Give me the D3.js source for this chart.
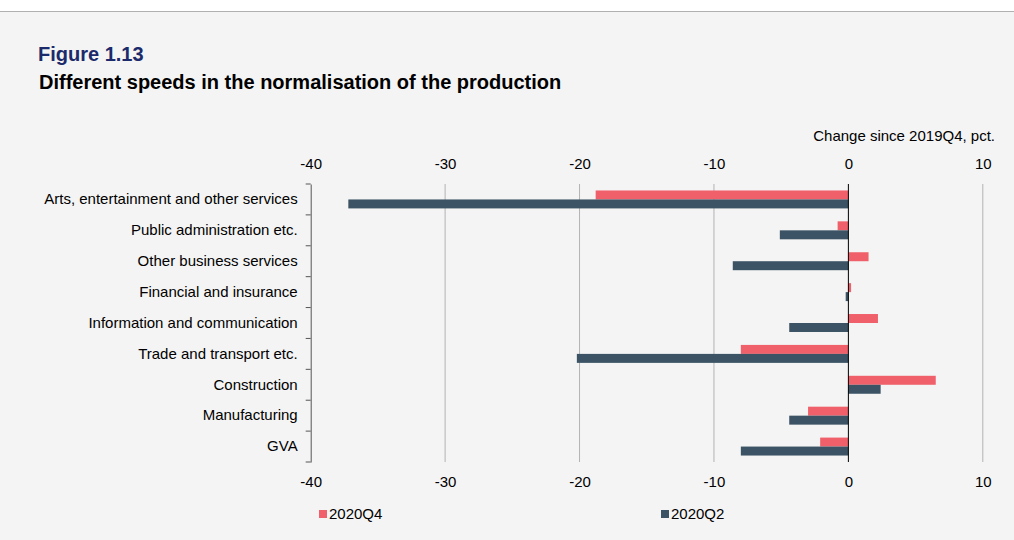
<!DOCTYPE html>
<html><head><meta charset="utf-8">
<script src="https://cdn.jsdelivr.net/npm/d3@7"></script>
<style>
html,body{margin:0;padding:0;background:#fff;}
svg{display:block;font-family:"Liberation Sans",Arial,sans-serif;}
</style></head>
<body>
<svg id="chart" width="1014" height="540"></svg>
<script>
const categories = ["Arts, entertainment and other services","Public administration etc.","Other business services","Financial and insurance","Information and communication","Trade and transport etc.","Construction","Manufacturing","GVA"];
const q4 = [-18.8,-0.8,1.5,0.2,2.2,-8.0,6.5,-3.0,-2.1];
const q2 = [-37.2,-5.1,-8.6,-0.2,-4.4,-20.2,2.4,-4.4,-8.0];
const seriesNames = ["2020Q4","2020Q2"];
const colors = ["#f0606a","#3b5364"];
const xTicks = [-40,-30,-20,-10,0,10];

const FS = 15;
const svg = d3.select("#chart");
svg.append("rect").attr("x",0).attr("y",11).attr("width",1014).attr("height",529).attr("fill","#f4f4f4");
svg.append("line").attr("x1",0).attr("x2",1014).attr("y1",11.5).attr("y2",11.5).attr("stroke","#b0b0b0").attr("stroke-width",1);

svg.append("text").attr("x",38).attr("y",61).attr("font-size",20).attr("font-weight","bold").attr("fill","#1b2a6b").text("Figure 1.13");
svg.append("text").attr("x",39).attr("y",89).attr("font-size",20).attr("font-weight","bold").attr("fill","#000").text("Different speeds in the normalisation of the production");
svg.append("text").attr("x",995).attr("y",141).attr("font-size",FS).attr("text-anchor","end").attr("fill","#000").text("Change since 2019Q4, pct.");

const x = d3.scaleLinear().domain([-40,10]).range([310.7,982.8]);
const y = d3.scaleBand().domain(categories).range([184,462]);
const sub = d3.scaleBand().domain(seriesNames).range([0,y.bandwidth()]).paddingInner(0).paddingOuter(0.72);

// gridlines
svg.append("g").selectAll("line").data(xTicks.filter(d=>d!==-40 && d!==0)).join("line")
  .attr("x1",d=>x(d)).attr("x2",d=>x(d)).attr("y1",184).attr("y2",462)
  .attr("stroke","#b3b3b3").attr("stroke-width",1);

// bars
const data = categories.map((c,i)=>({c, vals:[q4[i],q2[i]]}));
const g = svg.append("g");
data.forEach(d=>{
  d.vals.forEach((v,j)=>{
    g.append("rect")
      .attr("x",x(Math.min(0,v))).attr("width",Math.abs(x(v)-x(0)))
      .attr("y",y(d.c)+sub(seriesNames[j])).attr("height",sub.bandwidth())
      .attr("fill",colors[j]);
  });
});

// zero line
svg.append("line").attr("x1",x(0)).attr("x2",x(0)).attr("y1",184).attr("y2",462).attr("stroke","#000").attr("stroke-width",1);

// top and bottom axes
const fmt = d=>d3.format("d")(d).replace("−","-");
const topAx = svg.append("g").attr("transform","translate(0,172)").call(d3.axisTop(x).tickValues(xTicks).tickSize(0).tickFormat(fmt));
const botAx = svg.append("g").attr("transform","translate(0,473)").call(d3.axisBottom(x).tickValues(xTicks).tickSize(0).tickFormat(fmt));
[topAx,botAx].forEach(a=>{a.select(".domain").remove(); a.selectAll("text").attr("font-size",FS).attr("fill","#000").attr("font-family","Liberation Sans, Arial, sans-serif");});

// left axis
const yAx = svg.append("g").attr("transform",`translate(${x(-40)},0)`)
  .call(d3.axisLeft(y).tickSize(0).tickPadding(13));
yAx.select(".domain").attr("stroke","#555");
yAx.selectAll("text").attr("font-size",FS).attr("fill","#000").attr("font-family","Liberation Sans, Arial, sans-serif");
// tick marks between categories
const bounds = categories.map(c=>y(c)).concat([y.range()[1]]);
svg.append("g").selectAll("line").data(bounds).join("line")
  .attr("x1",x(-40)-5).attr("x2",x(-40)).attr("y1",d=>d).attr("y2",d=>d).attr("stroke","#555");

// legend
const leg = svg.append("g");
const legX = [319,661];
seriesNames.forEach((s,i)=>{
  leg.append("rect").attr("x",legX[i]).attr("y",510).attr("width",8).attr("height",8).attr("fill",colors[i]);
  leg.append("text").attr("x",legX[i]+10).attr("y",519).attr("font-size",FS).attr("fill","#000").text(s);
});
</script>
</body></html>
